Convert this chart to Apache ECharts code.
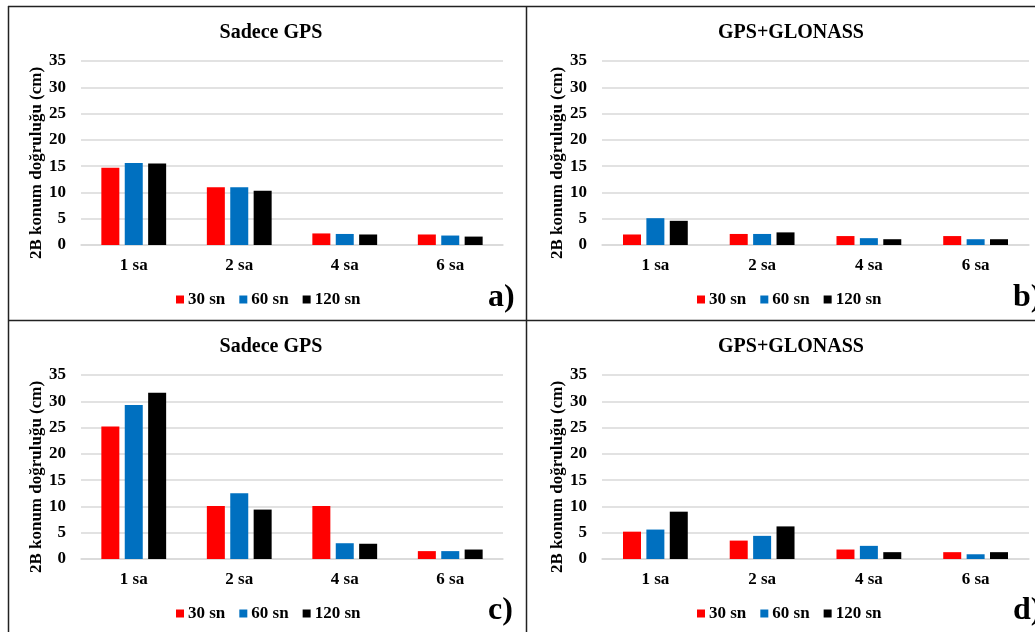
<!DOCTYPE html>
<html>
<head>
<meta charset="utf-8">
<script src="https://cdn.jsdelivr.net/npm/echarts@6/dist/echarts.min.js"></script>
<style>
  html, body { margin: 0; padding: 0; background: #fff; }
  #chart { width: 1035px; height: 632px; }
</style>
</head>
<body>
<div id="chart"></div>
<script>
// categories and series names
var categories = ['1 sa', '2 sa', '4 sa', '6 sa'];
var seriesNames = ['30 sn', '60 sn', '120 sn'];
var panelTitles = ['Sadece GPS', 'GPS+GLONASS', 'Sadece GPS', 'GPS+GLONASS'];
var panelTags = ['a)', 'b)', 'c)', 'd)'];
var yTicks = [0, 35, 5]; // min, max, interval

// a) Sadece GPS
var a30 = [14.7, 11.0, 2.2, 2.0];
var a60 = [15.6, 11.0, 2.1, 1.8];
var a120 = [15.5, 10.3, 2.0, 1.6];
// b) GPS+GLONASS
var b30 = [2.0, 2.1, 1.7, 1.7];
var b60 = [5.1, 2.1, 1.3, 1.1];
var b120 = [4.6, 2.4, 1.1, 1.1];
// c) Sadece GPS
var c30 = [25.2, 10.1, 10.1, 1.5];
var c60 = [29.3, 12.5, 3.0, 1.5];
var c120 = [31.6, 9.4, 2.9, 1.8];
// d) GPS+GLONASS
var d30 = [5.2, 3.5, 1.8, 1.3];
var d60 = [5.6, 4.4, 2.5, 0.9];
var d120 = [9.0, 6.2, 1.3, 1.3];

var panelData = [[a30, a60, a120], [b30, b60, b120], [c30, c60, c120], [d30, d60, d120]];
var colors = ['#ff0000', '#0070c0', '#000000'];

var FONT = '"Liberation Serif", "Times New Roman", serif';

// panel geometry
var panels = [
    { left: 81, right: 532, top: 61, bottom: 387, titleX: 266, titleY: 18, legendX: 171, legendY: 286, tagX: 488, tagY: 301 },
    { left: 602, right: 6, top: 61, bottom: 387, titleX: 786, titleY: 18, legendX: 692, legendY: 286, tagX: 1013, tagY: 301 },
    { left: 81, right: 532, top: 375, bottom: 73, titleX: 266, titleY: 332, legendX: 171, legendY: 600, tagX: 488, tagY: 614 },
    { left: 602, right: 6, top: 375, bottom: 73, titleX: 786, titleY: 332, legendX: 692, legendY: 600, tagX: 1013, tagY: 614 }
];

var myChart = echarts.init(document.getElementById('chart'), null, { renderer: 'canvas' });

var option = {
    animation: false,
    backgroundColor: '#fff',
    color: colors,
    title: [],
    legend: [],
    grid: [],
    xAxis: [],
    yAxis: [],
    series: [],
    graphic: []
};

for (var p = 0; p < 4; p++) {
    var g = panels[p];
    option.title.push({
        text: panelTitles[p],
        left: g.titleX,
        top: g.titleY,
        textAlign: 'center',
        textStyle: { fontFamily: FONT, fontSize: 20, fontWeight: 'bold', color: '#000' }
    });
    option.legend.push({
        data: seriesNames,
        left: g.legendX,
        top: g.legendY,
        itemWidth: 8,
        itemHeight: 8,
        itemGap: 14,
        icon: 'rect',
        textStyle: { fontFamily: FONT, fontSize: 17, fontWeight: 'bold', color: '#000', padding: [0, 0, 0, -1] }
    });
    option.grid.push({ left: g.left, right: g.right, top: g.top, bottom: g.bottom, containLabel: false });
    option.xAxis.push({
        type: 'category',
        gridIndex: p,
        data: categories,
        axisTick: { show: false },
        axisLine: { lineStyle: { color: '#d9d9d9', width: 1.5 } },
        axisLabel: { margin: 12, fontFamily: FONT, fontSize: 17, fontWeight: 'bold', color: '#000' }
    });
    option.yAxis.push({
        type: 'value',
        gridIndex: p,
        min: yTicks[0],
        max: yTicks[1],
        interval: yTicks[2],
        name: '2B konum doğruluğu (cm)',
        nameLocation: 'middle',
        nameGap: 36,
        nameTextStyle: { fontFamily: FONT, fontSize: 17, fontWeight: 'bold', color: '#000', padding: [0, 20, 0, 0] },
        axisLine: { show: false },
        axisTick: { show: false },
        splitLine: { lineStyle: { color: '#d9d9d9', width: 1.5 } },
        axisLabel: { margin: 15, fontFamily: FONT, fontSize: 17, fontWeight: 'bold', color: '#000' }
    });
    for (var s = 0; s < 3; s++) {
        option.series.push({
            name: seriesNames[s],
            type: 'bar',
            xAxisIndex: p,
            yAxisIndex: p,
            data: panelData[p][s],
            barWidth: 18,
            barGap: '30%',
            itemStyle: { color: colors[s] }
        });
    }
    option.graphic.push({
        type: 'text',
        left: g.tagX,
        top: g.tagY - 19,
        style: { text: panelTags[p], fontFamily: FONT, fontSize: 32, fontWeight: 'bold', fill: '#000' }
    });
}

// frame lines around the four panels
var frame = { stroke: '#222', lineWidth: 1.5 };
option.graphic.push(
    { type: 'line', shape: { x1: 8, y1: 6.5, x2: 1035, y2: 6.5 }, style: frame },
    { type: 'line', shape: { x1: 8.5, y1: 6, x2: 8.5, y2: 632 }, style: frame },
    { type: 'line', shape: { x1: 526.5, y1: 6, x2: 526.5, y2: 632 }, style: frame },
    { type: 'line', shape: { x1: 8, y1: 320.5, x2: 1035, y2: 320.5 }, style: frame }
);

myChart.setOption(option);
</script>
</body>
</html>
